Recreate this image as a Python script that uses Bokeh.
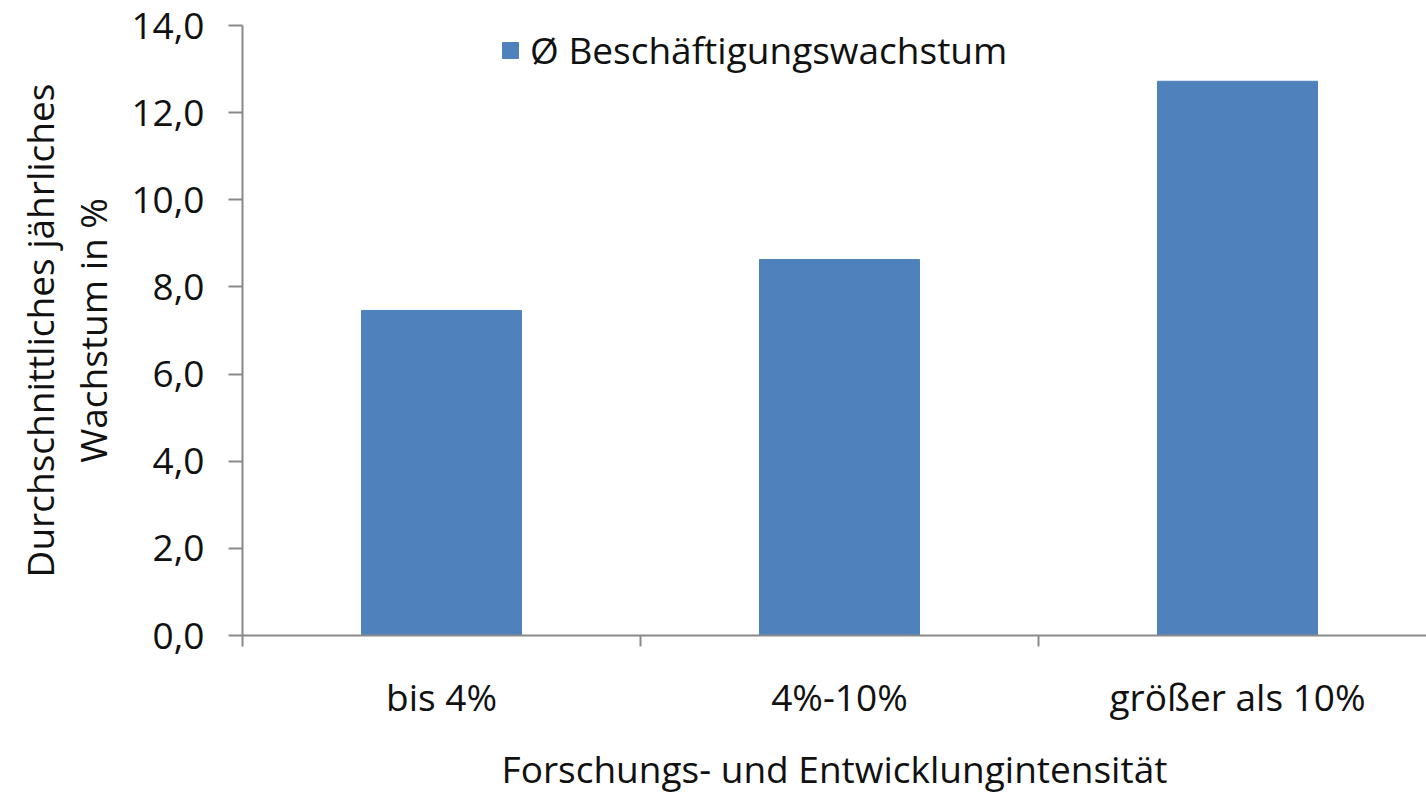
from bokeh.plotting import figure
from bokeh.models import ColumnDataSource, Range1d, FixedTicker, Legend, LegendItem, LinearAxis
from bokeh.embed import file_html
from bokeh.resources import INLINE

categories = ["bis 4%", "4%-10%", "größer als 10%"]
values = [7.46, 8.63, 12.72]
series_name = "Ø Beschäftigungswachstum"
y_ticks = [0, 2, 4, 6, 8, 10, 12, 14]
y_tick_labels = ["0,0", "2,0", "4,0", "6,0", "8,0", "10,0", "12,0", "14,0"]
x_title = "Forschungs- und Entwicklungintensität"
y_title_line1 = "Durchschnittliches jährliches"
y_title_line2 = "Wachstum in %"

FONT = "Open Sans"
FS = "37px"
AXIS_COLOR = "#898989"
TEXT_COLOR = "#111111"

W, H = 1426, 796
left, top, bottom = 242, 25, 161
frame_w = W - left
cat_px = 398.0

xs = [i + 0.5 for i in range(len(categories))]
src = ColumnDataSource(dict(x=xs, top=values))

p = figure(width=W, height=H, output_backend="svg", toolbar_location=None,
           x_range=Range1d(0, frame_w / cat_px), y_range=Range1d(0, 14),
           min_border_left=left, min_border_top=top, min_border_bottom=bottom,
           min_border_right=0, outline_line_color=None)
p.xgrid.visible = False
p.ygrid.visible = False

r = p.vbar(x="x", top="top", width=160 / cat_px, bottom=0, source=src,
           fill_color="#4F81BD", line_color="#4F81BD")

# x axis
p.xaxis.ticker = FixedTicker(ticks=xs, minor_ticks=list(range(len(categories) + 1)))
p.xaxis.major_label_overrides = {x: c for x, c in zip(xs, categories)}
p.xaxis.major_tick_out = 0
p.xaxis.major_tick_in = 0
p.xaxis.minor_tick_out = 11
p.xaxis.minor_tick_in = 0
p.xaxis.minor_tick_line_color = AXIS_COLOR
p.xaxis.minor_tick_line_width = 2
p.xaxis.axis_line_color = AXIS_COLOR
p.xaxis.axis_line_width = 2
p.xaxis.major_label_text_font = FONT
p.xaxis.major_label_text_font_size = FS
p.xaxis.major_label_text_color = TEXT_COLOR
p.xaxis.major_label_standoff = 24
p.xaxis.axis_label = x_title
p.xaxis.axis_label_text_font = FONT
p.xaxis.axis_label_text_font_size = FS
p.xaxis.axis_label_text_font_style = "normal"
p.xaxis.axis_label_text_color = TEXT_COLOR
p.xaxis.axis_label_standoff = 18

# y axis
p.yaxis.ticker = FixedTicker(ticks=y_ticks, minor_ticks=[])
p.yaxis.major_label_overrides = {t: l for t, l in zip(y_ticks, y_tick_labels)}
p.yaxis.major_tick_out = 14
p.yaxis.major_tick_in = 0
p.yaxis.major_tick_line_color = AXIS_COLOR
p.yaxis.major_tick_line_width = 2
p.yaxis.axis_line_color = AXIS_COLOR
p.yaxis.axis_line_width = 2
p.yaxis.major_label_text_font = FONT
p.yaxis.major_label_text_font_size = FS
p.yaxis.major_label_text_color = TEXT_COLOR
p.yaxis.major_label_standoff = 24
p.yaxis.axis_label = y_title_line2
p.yaxis.axis_label_text_font = FONT
p.yaxis.axis_label_text_font_size = FS
p.yaxis.axis_label_text_font_style = "normal"
p.yaxis.axis_label_text_color = TEXT_COLOR
p.yaxis.axis_label_standoff = 10

# outer title line on an extra, invisible axis
y2 = LinearAxis(ticker=FixedTicker(ticks=[], minor_ticks=[]),
                axis_line_color=None, major_tick_line_color=None,
                minor_tick_line_color=None, major_label_text_font_size="0px",
                axis_label=y_title_line1, axis_label_text_font=FONT,
                axis_label_text_font_size=FS, axis_label_text_font_style="normal",
                axis_label_text_color=TEXT_COLOR, axis_label_standoff=0)
p.add_layout(y2, "left")

legend = Legend(items=[LegendItem(label=series_name, renderers=[r])],
                location=(258, 560), orientation="horizontal",
                glyph_width=20, glyph_height=20, label_standoff=10,
                padding=0, margin=0, spacing=0,
                border_line_alpha=0, background_fill_alpha=0,
                label_text_font=FONT, label_text_font_size=FS,
                label_text_color=TEXT_COLOR)
p.add_layout(legend)

open("out.html", "w").write(file_html(p, INLINE))
